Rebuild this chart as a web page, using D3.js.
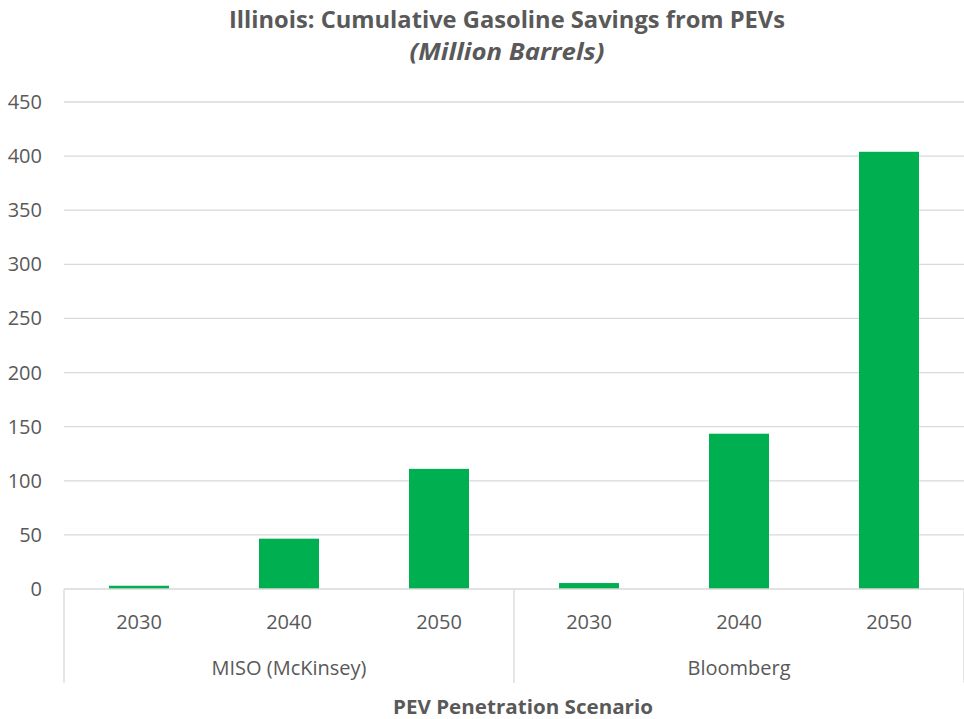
<!DOCTYPE html>
<html>
<head>
<meta charset="utf-8">
<title>Illinois gasoline savings</title>
<script src="https://d3js.org/d3.v7.min.js"></script>
<style>
  body { margin: 0; background: #fff; overflow: hidden; }
  svg text { font-family: "Open Sans", "Noto Sans", sans-serif; fill: #595959; }
</style>
</head>
<body>
<svg id="chart"></svg>
<script>
// data
const groups = ["MISO (McKinsey)", "Bloomberg"];
const years = ["2030", "2040", "2050"];
const misoValues = [3, 46.5, 111];
const bloombergValues = [5.5, 143.5, 404];
const yTicks = [0, 50, 100, 150, 200, 250, 300, 350, 400, 450];

const rows = [];
groups.forEach((g, gi) => {
    const vals = gi === 0 ? misoValues : bloombergValues;
    years.forEach((y, i) => rows.push({ group: g, year: y, key: g + "|" + y, value: vals[i] }));
});

const width = 964, height = 719;
const plotLeft = 64, plotRight = 964, plotTop = 102, plotBottom = 589;
const green = "#00b050", gridColor = "#d9d9d9";

const svg = d3.select("#chart").attr("width", width).attr("height", height);

const x = d3.scaleBand()
    .domain(rows.map(d => d.key))
    .range([plotLeft, plotRight])
    .paddingInner(0.6)
    .paddingOuter(0.3);

const y = d3.scaleLinear().domain([0, 450]).range([plotBottom, plotTop]);

// gridlines
svg.append("g")
    .selectAll("line")
    .data(yTicks.filter(t => t > 0))
    .join("line")
    .attr("x1", plotLeft).attr("x2", plotRight)
    .attr("y1", d => y(d)).attr("y2", d => y(d))
    .attr("stroke", gridColor).attr("stroke-width", 1.3);

// y labels
svg.append("g")
    .selectAll("text")
    .data(yTicks)
    .join("text")
    .attr("x", 42)
    .attr("y", d => y(d))
    .attr("dy", "0.35em")
    .attr("text-anchor", "end")
    .style("font-size", "20px")
    .text(d => d);

// bars
svg.append("g")
    .selectAll("rect")
    .data(rows)
    .join("rect")
    .attr("x", d => x(d.key))
    .attr("width", x.bandwidth())
    .attr("y", d => y(d.value))
    .attr("height", d => y(0) - y(d.value))
    .attr("fill", green);

// base axis line
svg.append("line")
    .attr("x1", plotLeft).attr("x2", plotRight)
    .attr("y1", plotBottom).attr("y2", plotBottom)
    .attr("stroke", gridColor).attr("stroke-width", 1.3);

// year labels
svg.append("g")
    .selectAll("text")
    .data(rows)
    .join("text")
    .attr("x", d => x(d.key) + x.bandwidth() / 2)
    .attr("y", 622)
    .attr("dy", "0.35em")
    .attr("text-anchor", "middle")
    .style("font-size", "20px")
    .text(d => d.year);

// group separators and labels
const step = x.step();
const groupEdges = [0, 1, 2].map(i => plotLeft + i * years.length * step);
svg.append("g")
    .selectAll("line")
    .data(groupEdges)
    .join("line")
    .attr("x1", d => d).attr("x2", d => d)
    .attr("y1", plotBottom).attr("y2", 683)
    .attr("stroke", gridColor).attr("stroke-width", 1.3);

svg.append("g")
    .selectAll("text")
    .data(groups)
    .join("text")
    .attr("x", (d, i) => (groupEdges[i] + groupEdges[i + 1]) / 2)
    .attr("y", 668)
    .attr("dy", "0.35em")
    .attr("text-anchor", "middle")
    .style("font-size", "20px")
    .text(d => d);

// axis title
svg.append("text")
    .attr("x", 523)
    .attr("y", 707)
    .attr("dy", "0.35em")
    .attr("text-anchor", "middle")
    .style("font-size", "20px")
    .style("font-weight", "bold")
    .attr("textLength", 260)
    .attr("lengthAdjust", "spacingAndGlyphs")
    .text("PEV Penetration Scenario");

// title
svg.append("text")
    .attr("x", 507)
    .attr("y", 20)
    .attr("dy", "0.35em")
    .attr("text-anchor", "middle")
    .style("font-size", "24px")
    .style("font-weight", "bold")
    .attr("textLength", 556)
    .attr("lengthAdjust", "spacingAndGlyphs")
    .text("Illinois: Cumulative Gasoline Savings from PEVs");

svg.append("text")
    .attr("x", 507)
    .attr("y", 52)
    .attr("dy", "0.35em")
    .attr("text-anchor", "middle")
    .style("font-size", "24px")
    .style("font-weight", "bold")
    .style("font-style", "italic")
    .attr("textLength", 195)
    .attr("lengthAdjust", "spacingAndGlyphs")
    .text("(Million Barrels)");
</script>
</body>
</html>
